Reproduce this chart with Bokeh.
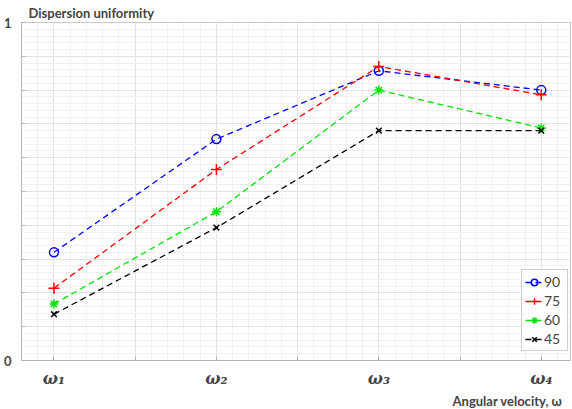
from bokeh.plotting import figure
from bokeh.models import (FixedTicker, Range1d, Title, Legend, LegendItem)
from bokeh.embed import file_html
from bokeh.resources import INLINE

# ---- data ----
categories = ["ω₁", "ω₂", "ω₃", "ω₄"]
x_pos = [1, 2, 3, 4]
series_names = ["90", "75", "60", "45"]
s90 = [0.32, 0.655, 0.857, 0.80]
s75 = [0.214, 0.565, 0.87, 0.786]
s60 = [0.167, 0.44, 0.80, 0.688]
s45 = [0.137, 0.393, 0.68, 0.68]
y_tick_labels = {0: "0", 1: "1"}

series = [s90, s75, s60, s45]
colors = ["#0000ff", "#ff0000", "#00e600", "#000000"]
markers = ["circle", "cross", "asterisk", "x"]
sizes = [9, 11, 9, 8]

p = figure(width=572, height=409, output_backend="svg", toolbar_location=None,
           x_range=Range1d(0.8, 4.18), y_range=Range1d(0, 1),
           min_border_left=20, min_border_right=2, min_border_top=0,
           min_border_bottom=0)
p.background_fill_color = "white"
p.border_fill_color = "white"
p.outline_line_color = "#c8c8c8"

# grids
xt = [1 + 0.5 * i for i in range(7)]
xminor = [round(0.8 + 0.1 * i, 2) for i in range(35)]
yt = [round(0.1 * i, 2) for i in range(11)]
yminor = [round(0.02 * i, 2) for i in range(51)]
p.xaxis.ticker = FixedTicker(ticks=xt, minor_ticks=xminor)
p.yaxis.ticker = FixedTicker(ticks=yt, minor_ticks=yminor)
p.xgrid.ticker = FixedTicker(ticks=xt, minor_ticks=xminor)
p.ygrid.ticker = FixedTicker(ticks=yt, minor_ticks=yminor)
for g in (p.xgrid[0], p.ygrid[0]):
    g.grid_line_color = "#e2e2e2"
    g.grid_line_width = 1
    g.minor_grid_line_color = "#f0f0f0"
    g.minor_grid_line_width = 1

# axes
for ax in (p.xaxis[0], p.yaxis[0]):
    ax.axis_line_color = "#b4b4b4"
    ax.major_tick_line_color = "#b4b4b4"
    ax.major_tick_in = 4
    ax.major_tick_out = 0
    ax.minor_tick_line_color = None
x_over = {x: "" for x in xt}
for xp, c in zip(x_pos, categories):
    x_over[xp] = c
p.xaxis.major_label_overrides = x_over
p.xaxis.major_label_text_font = "DejaVu Serif"
p.xaxis.major_label_text_font_style = "bold italic"
p.xaxis.major_label_text_font_size = "16px"
p.xaxis.major_label_standoff = 4
y_over = {y: "" for y in yt}
for k, v in y_tick_labels.items():
    y_over[k] = v
p.yaxis.major_label_overrides = y_over
p.yaxis.major_label_text_font = "Lato"
p.yaxis.major_label_text_font_style = "bold"
p.yaxis.major_label_text_font_size = "13px"
p.yaxis.major_label_standoff = 6

items = []
for name, ys, col, mk, sz in zip(series_names, series, colors, markers, sizes):
    ln = p.line(x_pos, ys, line_color=col, line_width=1.3, line_dash="6 4")
    sc = p.scatter(x_pos, ys, marker=mk, size=sz, line_color=col,
                   fill_color=None, line_width=1.5)
    items.append(LegendItem(label=name, renderers=[ln, sc]))

legend = Legend(items=items, location=(500, 9), padding=3, margin=0,
                spacing=2, glyph_width=18, glyph_height=16, label_height=16,
                label_standoff=1, label_text_font="Lato",
                label_text_font_size="14px",
                border_line_color="#a0a0a0", background_fill_alpha=1)
p.add_layout(legend)

top_title = Title(text="Dispersion uniformity", align="left", offset=7,
                  text_font="Lato", text_font_style="bold", text_font_size="13px",
                  standoff=4)
p.add_layout(top_title, "above")
bottom_title = Title(text="Angular velocity, ω", align="right", offset=8,
                     text_font="Lato", text_font_style="bold", text_font_size="13px",
                     standoff=1)
p.add_layout(bottom_title, "below")

open("out.html", "w").write(file_html(p, INLINE))
